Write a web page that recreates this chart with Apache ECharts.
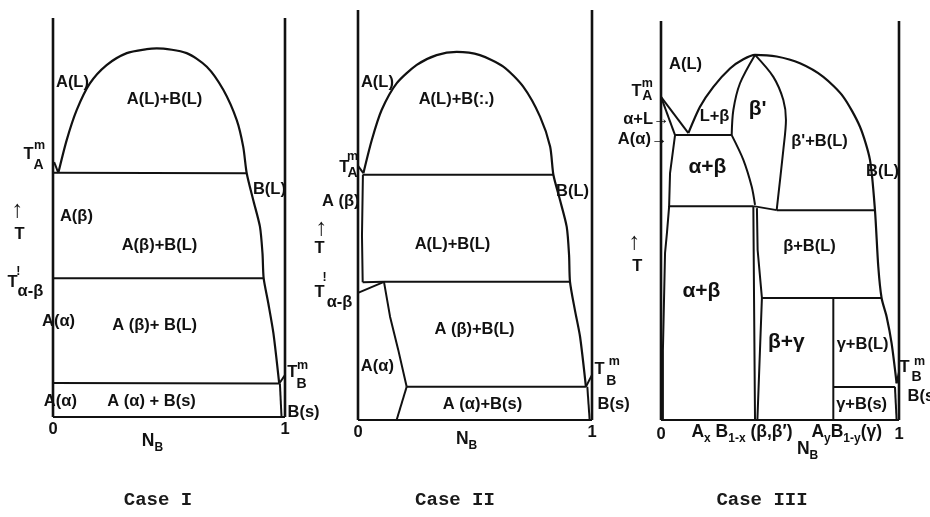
<!DOCTYPE html>
<html><head><meta charset="utf-8">
<script src="https://cdn.jsdelivr.net/npm/echarts@6/dist/echarts.min.js"></script>
<style>html,body{margin:0;padding:0;background:#fff}#c{width:930px;height:517px}</style>
</head><body><div id="c"></div>
<script>
// ---------- shared ----------
const tickLabels = ['0', '1'];           // N_B axis ticks
const caseTitles = ['Case I', 'Case II', 'Case III'];

// ---------- Case I (x = N_B, y = relative T, 0..100) ----------
const caseIEdges = [[[0,0],[0,100]], [[1,0],[1,100]], [[0,0],[1,0]]];
const caseIDome = [[0.023,61.2],[0.059,69.4],[0.102,76.9],[0.159,83.6],[0.231,88.2],[0.318,91.2],[0.404,92.2],[0.447,92.4],[0.576,91.2],[0.663,87.8],[0.734,82.0],[0.792,74.4],[0.820,67.7],[0.835,61.1],[0.863,54.4],[0.892,47.7],[0.903,41.0],[0.908,34.8],[0.928,28.5],[0.950,21.0],[0.975,8.4]];
const caseIBounds = [
  [[0.005,63.9],[0.023,61.2]],
  [[0,61.2],[0.835,61.1]],
  [[0,34.8],[0.908,34.8]],
  [[0,8.5],[0.975,8.4]],
  [[0.975,8.4],[1,10.5]],
  [[0.978,8.4],[0.985,0]]
];
const caseILabels = [
  [0.086,83.7,'A(L)','c'], [0.483,79.4,'A(L)+B(L)','c'],
  [-0.103,65.7,'T','c'], [-0.056,67.9,'m','sup'], [-0.060,62.9,'A','sub'],
  [0.935,56.9,'B(L)','c'],
  [-0.151,51.6,'↑','arrow'], [-0.142,45.6,'T','c'],
  [0.103,50.1,'A(β)','c'], [0.461,42.9,'A(β)+B(L)','c'],
  [-0.172,33.6,'T','c'], [-0.147,36.3,'ǃ','sup'], [-0.095,31.3,'α-β','c'],
  [0.026,23.8,'A(α)','c'], [0.440,22.8,'A (β)+ B(L)','c'],
  [1.034,11.0,'T','c'], [1.078,12.8,'m','sup'], [1.073,8.0,'B','sub'],
  [0.034,3.8,'A(α)','c'], [0.427,3.8,'A (α) + B(s)','c'],
  [1.013,1.0,'B(s)','l'],
  [0.431,-6.3,'{n|N}{u|B}','c']
];

// ---------- Case II ----------
const caseIIEdges = [[[0,0],[0,100]], [[1,0],[1,100]], [[0,0],[1,0]]];
const caseIIDome = [[0.023,60.2],[0.059,68.3],[0.101,75.6],[0.165,82.1],[0.251,86.6],[0.336,89.0],[0.422,89.8],[0.521,89.0],[0.621,86.2],[0.706,81.3],[0.778,74.0],[0.821,66.7],[0.835,59.8],[0.863,53.7],[0.892,47.1],[0.902,40.2],[0.906,33.7],[0.927,26.8],[0.949,20.3],[0.974,8.1]];
const caseIIBounds = [
  [[0,62],[0.023,60.2]],
  [[0.02,59.8],[0.835,59.8]],
  [[0.021,59.8],[0.017,45],[0.02,33.6]],
  [[0.02,33.6],[0.111,33.7]],
  [[0,31.0],[0.111,33.7]],
  [[0.111,33.7],[0.906,33.7]],
  [[0.111,33.7],[0.137,25.2],[0.172,17.1],[0.208,8.1]],
  [[0.208,8.1],[0.974,8.1]],
  [[0.208,8.1],[0.165,0]],
  [[0.974,8.1],[1,11]],
  [[0.98,8.1],[0.99,0]]
];
const caseIILabels = [
  [0.085,82.2,'A(L)','c'], [0.423,78.0,'A(L)+B(:.)','c'],
  [-0.056,61.5,'T','c'], [-0.021,64.1,'m','sup'], [-0.021,60.2,'A','sub'],
  [0.919,55.6,'B(L)','c'],
  [0.009,53.2,'A (β)','r'],
  [-0.154,46.6,'↑','arrow'], [-0.162,41.7,'T','c'],
  [0.406,42.7,'A(L)+B(L)','c'],
  [-0.162,31.0,'T','c'], [-0.141,34.6,'ǃ','sup'], [-0.077,28.5,'α-β','c'],
  [0.5,22.0,'A (β)+B(L)','c'],
  [0.085,12.9,'A(α)','c'],
  [1.034,12.2,'T','c'], [1.098,14.1,'m','sup'], [1.085,9.3,'B','sub'],
  [0.534,3.7,'A (α)+B(s)','c'],
  [1.026,3.7,'B(s)','l'],
  [0.466,-4.9,'{n|N}{u|B}','c']
];

// ---------- Case III ----------
const caseIIIEdges = [[[0,0],[0,100]], [[1,0],[1,100]], [[0,0],[1,0]]];
const caseIIIDome = [[0.115,71.9],[0.164,78.5],[0.220,83.5],[0.290,88.1],[0.346,90.4],[0.395,91.5],[0.486,91.1],[0.584,89.4],[0.682,86.0],[0.766,81.0],[0.836,73.5],[0.878,65.2],[0.899,52.6],[0.913,38.4],[0.927,30.5],[0.948,25.9],[0.969,19.2],[0.990,9.2]];
const caseIIICurves = [
  [[0.297,71.4],[0.304,77.7],[0.332,84.4],[0.395,91.5]],
  [[0.297,71.4],[0.346,65.2],[0.381,58.5],[0.395,53.9]],
  [[0.395,91.5],[0.472,86.0],[0.514,80.2],[0.525,75.2],[0.514,67.7],[0.486,52.6]]
];
const caseIIIBounds = [
  [[0,81.0],[0.115,71.9]],
  [[0,81.0],[0.059,71.4]],
  [[0.059,71.4],[0.297,71.4]],
  [[0.059,71.4],[0.038,61.9],[0.034,53.4],[0.025,46.9],[0.017,41.9],[0.008,17.5],[0.008,0]],
  [[0.034,53.6],[0.388,53.6]],
  [[0.388,53.6],[0.486,52.6]],
  [[0.486,52.6],[0.899,52.6]],
  [[0.388,53.6],[0.391,30],[0.395,0]],
  [[0.403,53.1],[0.406,42.6],[0.424,30.6],[0.405,0]],
  [[0.424,30.6],[0.927,30.6]],
  [[0.724,30.6],[0.724,0]],
  [[0.724,8.3],[0.983,8.3]],
  [[0.990,9.2],[1,12]],
  [[0.983,8.3],[0.99,0]]
];
const caseIIILabels = [
  [0.105,89.0,'A(L)','c'],
  [-0.101,82.2,'T','c'], [-0.055,84.2,'m','sup'], [-0.055,81.0,'A','sub'],
  [0.038,75.2,'α+L→','r'], [0.029,70.2,'A(α)→','r'],
  [0.227,75.9,'L+β','c'], [0.408,77.7,"β'",'big'], [0.668,69.7,"β'+B(L)",'c'],
  [0.933,62.2,'B(L)','c'], [0.197,63.2,'α+β','big'], [0.626,43.4,'β+B(L)','c'],
  [-0.109,44.4,'↑','arrow'], [-0.097,38.3,'T','c'],
  [0.172,32.1,'α+β','big'], [0.529,19.3,'β+γ','big'], [0.849,18.8,'γ+B(L)','c'],
  [1.025,13.0,'T','c'], [1.088,14.5,'m','sup'], [1.076,10.5,'B','sub'],
  [1.038,5.8,'B(s)','l'], [0.845,3.8,'γ+B(s)','c'],
  [0.130,-3.3,'{n|A}{u|x}{n| B}{u|1-x}{n| (β,β′)}','l'],
  [0.634,-3.3,'{n|A}{u|y}{n|B}{u|1-y}{n|(γ)}','l'],
  [0.618,-7.5,'{n|N}{u|B}','c']
];

// ---------- build ----------
const FONT = '"Liberation Sans", Arial, sans-serif';
const INK = '#111111';
const grids = [
  {left: 53, top: 18, width: 232, height: 399},
  {left: 358, top: 10, width: 234, height: 410},
  {left: 661, top: 21, width: 238, height: 399}
];
const tickMargins = [4, 4, 6];
const panels = [
  {edges: caseIEdges, dome: caseIDome, curves: [], bounds: caseIBounds, labels: caseILabels},
  {edges: caseIIEdges, dome: caseIIDome, curves: [], bounds: caseIIBounds, labels: caseIILabels},
  {edges: caseIIIEdges, dome: caseIIIDome, curves: caseIIICurves, bounds: caseIIIBounds, labels: caseIIILabels}
];
const styleMap = {
  c:   {fontSize: 16.5, align: 'center'},
  l:   {fontSize: 16.5, align: 'left'},
  r:   {fontSize: 16.5, align: 'right'},
  big: {fontSize: 21, align: 'center'},
  sup: {fontSize: 12.5, align: 'center'},
  sub: {fontSize: 14, align: 'center'},
  arrow: {fontSize: 24, align: 'center'}
};
const rich = {
  n: {fontSize: 17.5, fontWeight: 'bold', fontFamily: FONT, color: INK, lineHeight: 24, opacity: 1},
  u: {fontSize: 12, fontWeight: 'bold', fontFamily: FONT, color: INK, verticalAlign: 'bottom', opacity: 1}
};

const series = [];
function addLine(gi, pts, w, smooth) {
  series.push({type: 'line', xAxisIndex: gi, yAxisIndex: gi, data: pts, symbol: 'none',
    smooth: smooth || false, clip: false, silent: true, animation: false,
    lineStyle: {color: INK, width: w}});
}
panels.forEach((p, gi) => {
  p.edges.forEach((e, k) => addLine(gi, e, k < 2 ? 2.6 : 2.2));
  addLine(gi, p.dome, 2.2, 0.25);
  p.curves.forEach(c => addLine(gi, c, 2, 0.3));
  p.bounds.forEach(b => addLine(gi, b, 2));
  series.push({
    type: 'scatter', xAxisIndex: gi, yAxisIndex: gi, symbolSize: 1, clip: false, silent: true,
    animation: false, itemStyle: {color: '#ffffff', opacity: 1},
    data: p.labels.map(l => {
      const st = styleMap[l[3]];
      return {value: [l[0], l[1]], label: {show: true, position: [0, 0], formatter: l[2],
        fontSize: st.fontSize, align: st.align, verticalAlign: 'middle', opacity: 1,
        textBorderWidth: 0, fontFamily: FONT, fontWeight: 'bold', color: INK, rich: rich}};
    })
  });
});

const chart = echarts.init(document.getElementById('c'), null, {renderer: 'canvas'});
chart.setOption({
  backgroundColor: '#ffffff',
  animation: false,
  grid: grids,
  xAxis: grids.map((g, i) => ({gridIndex: i, type: 'value', min: 0, max: 1, interval: 1,
    axisLine: {show: false}, axisTick: {show: false}, splitLine: {show: false},
    axisLabel: {margin: tickMargins[i], fontSize: 16.5, fontWeight: 'bold', fontFamily: FONT, color: INK,
      formatter: v => tickLabels[Math.round(v)]}})),
  yAxis: grids.map((g, i) => ({gridIndex: i, type: 'value', min: 0, max: 100, show: false})),
  graphic: caseTitles.map((t, i) => ({type: 'text', x: [158, 455, 762][i], y: 500,
    style: {text: t, align: 'center', verticalAlign: 'middle', fill: '#1a1a1a',
      font: 'bold 19px "Liberation Mono", monospace'}})),
  series: series
});
</script></body></html>
